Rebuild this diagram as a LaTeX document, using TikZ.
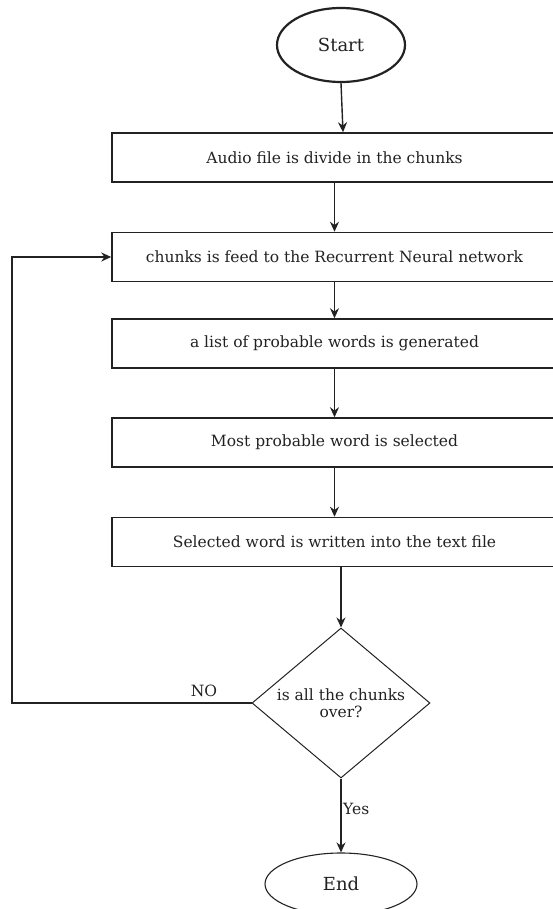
\documentclass[tikz,border=0pt]{standalone}
\usepackage{fontspec}
\setmainfont{DejaVu Serif}
\usetikzlibrary{shapes.geometric,arrows.meta}
\definecolor{ink}{HTML}{222222}
\tikzset{
  stepbox/.style={draw=ink, line width=1.5pt, rectangle, minimum width=445pt, minimum height=49pt, inner sep=0pt, font=\fontsize{15.5}{18}\selectfont, text=ink},
  term/.style={draw=ink, ellipse, inner sep=0pt, font=\fontsize{18}{21}\selectfont, text=ink},
  decide/.style={draw=ink, line width=1pt, diamond, aspect=1.19, minimum width=178pt, minimum height=150pt, inner sep=0pt, align=center, font=\fontsize{15.5}{17}\selectfont, text=ink},
  arr/.style={draw=ink, line width=1.4pt, -{Stealth[length=10pt,width=9pt]}},
  lbl/.style={font=\fontsize{15.5}{18}\selectfont, text=ink, inner sep=0pt}
}
\begin{document}
\begin{tikzpicture}[x=1pt,y=-1pt]
\useasboundingbox (0,0) rectangle (553,909);
\clip (0,0) rectangle (553,909);
\node[term, line width=2.2pt, minimum width=128pt, minimum height=74pt] (start) at (341,45) {Start};
\node[stepbox] (b1) at (334.5,157.5) {Audio file is divide in the chunks};
\node[stepbox] (b2) at (334.5,257) {chunks is feed to the Recurrent Neural network};
\node[stepbox] (b3) at (334.5,343.5) {a list of probable words is generated};
\node[stepbox] (b4) at (334.5,442.5) {Most probable word is selected};
\node[stepbox] (b5) at (334.5,542) {Selected word is written into the text file};
\node[decide] (dia) at (341,703) {is all the chunks\\over?};
\node[term, line width=1.1pt, minimum width=152pt, minimum height=62pt] (end) at (341,884) {End};
\coordinate (lp) at (12,703);
\draw[arr] (start.south) -- ([xshift=8.5pt]b1.north);
\draw[arr] (b1) -- (b2);
\draw[arr] (b2) -- (b3);
\draw[arr] (b3) -- (b4);
\draw[arr] (b4) -- (b5);
\draw[arr] (b5.south -| dia.north) -- (dia.north);
\draw[arr] (dia.west) -- (lp) |- (b2.west);
\draw[arr] (dia.south) -- (end.north);
\node[lbl] (no) at (204,691) {NO};
\node[lbl, anchor=west] (yes) at (343,809) {Yes};
\end{tikzpicture}
\end{document}
